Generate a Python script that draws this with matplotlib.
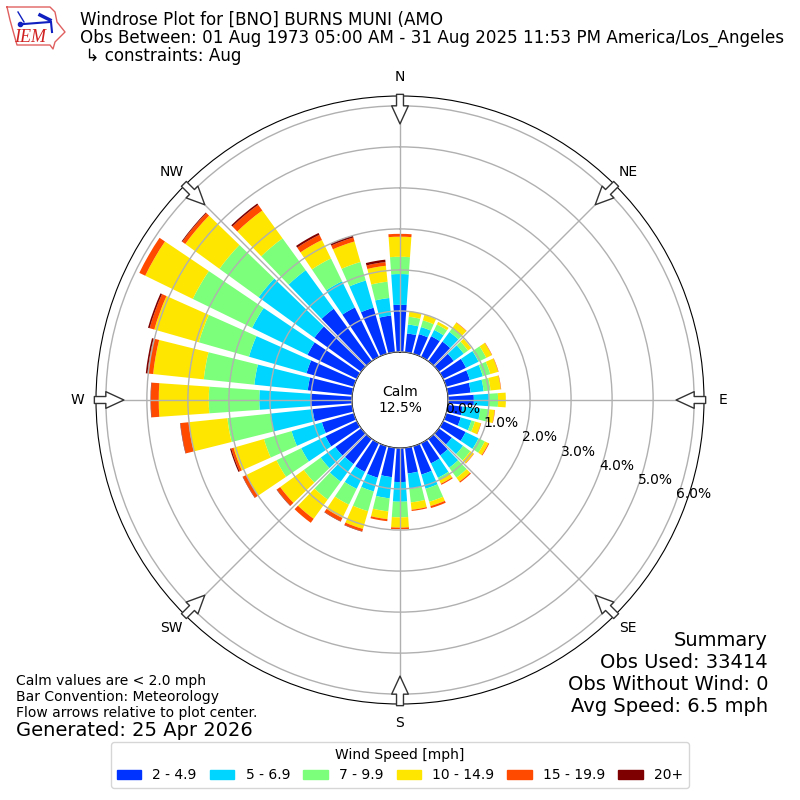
import numpy as np
import matplotlib
matplotlib.use('Agg')
import matplotlib.pyplot as plt
from matplotlib.patches import Patch

# Values, percent per 10 degree direction bin, 0..350
directions = np.arange(0, 360, 10)
speed_2_5 = [1.15, .46, .50, .56, .59, .45, .62, .60, .56, .63, .36, .37, .61, .39, .50, .55, .72, .63,
             .83, .72, .80, .78, .76, .78, .85, .81, .97, 1.02, 1.09, 1.20, 1.34, 1.41, 1.58, 1.34, 1.17, .90]
speed_5_7 = [.75, .22, .18, .17, .29, .30, .34, .33, .32, .37, .44, .27, .35, .34, .37, .39, .36, .38,
             .48, .52, .35, .46, .53, .44, .66, .77, 1.03, 1.24, 1.31, 1.46, 1.50, 1.68, 1.16, .71, .69, .43]
speed_7_10 = [.42, .19, .17, .15, .11, .13, .21, .19, .17, .22, .22, .09, .17, .22, .30, .06, .33, .33,
              .38, .32, .50, .43, .54, .51, .67, .70, 1.06, 1.23, 1.24, 1.27, 1.61, 1.18, .96, .62, .47, .40]
speed_10_15 = [.49, .13, .14, .07, .17, .10, .15, .20, .25, .19, .13, .15, .10, .10, .12, .10, .11, .18,
               .25, .19, .45, .36, .58, .71, .82, .77, .95, 1.22, 1.24, 1.13, 1.29, 1.03, .84, .50, .52, .39]
speed_15_20 = [.07, 0, 0, 0, .01, 0, .01, .01, .01, 0, .01, .01, .02, .01, .03, .03, .05, .03,
               .04, .05, .06, .09, .12, .10, .09, .06, .20, .19, .14, .12, .16, .09, .17, .14, .10, .09]
speed_20_up = [0, 0, 0, 0, 0, 0, 0, 0, 0, 0, 0, 0, 0, 0, 0, 0, 0, 0,
               0, 0, .01, .01, 0, .01, .01, .03, .01, .01, .04, .04, 0, .02, .04, .05, .05, .06]

speed_bins = [speed_2_5, speed_5_7, speed_7_10, speed_10_15, speed_15_20, speed_20_up]
speed_labels = ['2 - 4.9', '5 - 6.9', '7 - 9.9', '10 - 14.9', '15 - 19.9', '20+']
speed_colors = ['#0033ff', '#00d5ff', '#7cff7a', '#ffe600', '#ff4a00', '#7f0000']

compass_angles = [0, 45, 90, 135, 180, 225, 270, 315]
compass_labels = ['N', 'NE', 'E', 'SE', 'S', 'SW', 'W', 'NW']
radial_ticks = [0, 1, 2, 3, 4, 5, 6]

fig = plt.figure(figsize=(8, 8), dpi=100)
ax = fig.add_axes([0.12, 0.12, 0.76, 0.76], projection='polar')
ax.set_theta_zero_location('N')
ax.set_theta_direction(-1)
ax.set_axisbelow(False)

# Stack the bars
theta = np.deg2rad(directions)
base = np.zeros(len(directions))
for values, color in zip(speed_bins, speed_colors):
    ax.bar(theta, values, width=np.deg2rad(8), bottom=base, color=color, linewidth=0)
    base = base + np.array(values)

ax.set_rorigin(-1.17)
ax.set_ylim(0, 6.24)
ax.set_rgrids(radial_ticks, labels=['%.1f%%' % r for r in radial_ticks], fontsize=10)
ax.set_rlabel_position(110)
ax.set_thetagrids(compass_angles, labels=compass_labels, fontsize=10)
ax.tick_params(axis='x', pad=3)
ax.grid(True, color='#b0b0b0', linewidth=1)

# Flow arrows, pointing at the plot center
for angle in compass_angles:
    ax.annotate('', xy=(np.deg2rad(angle), 5.56), xytext=(np.deg2rad(angle), 6.28),
                annotation_clip=False,
                arrowprops=dict(facecolor='white', edgecolor='#333333', linewidth=1,
                                width=5, headwidth=12, headlength=13, shrink=0))

ax.text(0.5, 0.5, 'Calm\n12.5%', transform=ax.transAxes, ha='center', va='center', fontsize=10)

# Title block
fig.text(0.1, 0.987, 'Windrose Plot for [BNO] BURNS MUNI (AMO\n'
         'Obs Between: 01 Aug 1973 05:00 AM - 31 Aug 2025 11:53 PM America/Los_Angeles\n'
         ' \u21b3 constraints: Aug', ha='left', va='top', fontsize=12.04, linespacing=1.0)

# Notes in the corners
fig.text(0.02, 0.0995, 'Calm values are < 2.0 mph\nBar Convention: Meteorology\n'
         'Flow arrows relative to plot center.', ha='left', va='bottom', fontsize=10)
fig.text(0.02, 0.075, 'Generated: 25 Apr 2026', ha='left', va='bottom', fontsize=14)
fig.text(0.96, 0.105, 'Summary\nObs Used: 33414\nObs Without Wind: 0\nAvg Speed: 6.5 mph',
         ha='right', va='bottom', fontsize=14)

handles = [Patch(color=c, label=l) for c, l in zip(speed_colors, speed_labels)]
fig.legend(handles=handles, title='Wind Speed [mph]', ncol=6, loc='lower center',
           bbox_to_anchor=(0.5, 0.0063), fontsize=10, title_fontsize=10, handlelength=1.75,
           columnspacing=0.96)

# Small IEM logo, drawn in pixel space
logo = fig.add_axes([0, 1 - 52 / 800, 68 / 800, 52 / 800])
logo.set_xlim(0, 68)
logo.set_ylim(52, 0)
logo.axis('off')
logo.plot([7, 50, 55, 57, 65, 55, 53, 50, 17, 15, 10, 7], [7, 7, 12, 22, 32, 42, 49, 45, 45, 38, 20, 7],
          color='#e06060', linewidth=1)
logo.plot([24, 50], [24, 22], color='#1020c0', linewidth=1.5)
logo.plot([40, 50], [15, 20], color='#1020c0', linewidth=2.5)
logo.plot([18, 24], [12, 22], color='#1020c0', linewidth=1)
logo.plot([51, 52], [22, 32], color='#1020c0', linewidth=1.5)
logo.plot([20], [24], marker='o', markersize=3, color='#1020c0')
logo.text(30, 38, 'IEM', color='#d02020', family='Liberation Serif', style='italic', fontsize=13,
          ha='center', va='center')

fig.savefig('out.png', dpi=100)
